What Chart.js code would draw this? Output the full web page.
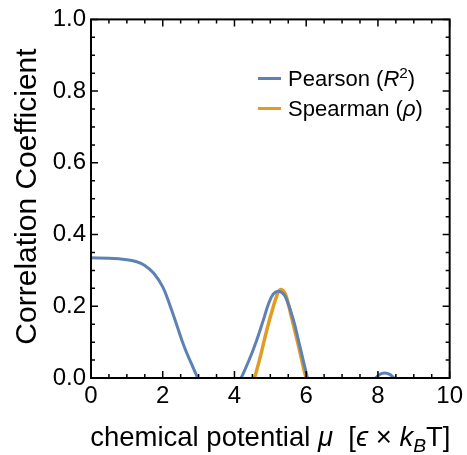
<!DOCTYPE html>
<html>
<head>
<meta charset="utf-8">
<script src="https://cdn.jsdelivr.net/npm/chart.js@4.4.1/dist/chart.umd.min.js"></script>
<style>
  html, body { margin: 0; padding: 0; background: #fff; }
</style>
</head>
<body>
<canvas id="corrChart" width="467" height="455"></canvas>
<script>
const FONT = '"Liberation Sans", Arial, sans-serif';

// values
const pearsonMu = [0, 0.5, 1.0, 1.25, 1.5, 1.75, 2.0, 2.2, 2.4, 2.6, 2.8, 3.0, 3.2, 3.6, 4.0, 4.2, 4.4, 4.6, 4.8, 4.95, 5.08, 5.22, 5.35, 5.45, 5.65, 5.82, 6.0, 6.07, 6.3, 7.0, 7.7, 7.94, 8.05, 8.19, 8.33, 8.45, 8.7, 10];
const pearsonR  = [0.335, 0.334, 0.330, 0.325, 0.314, 0.292, 0.254, 0.203, 0.145, 0.087, 0.040, -0.005, -0.045, -0.07, -0.04, 0.003, 0.048, 0.100, 0.160, 0.207, 0.234, 0.242, 0.236, 0.220, 0.160, 0.090, 0.015, -0.008, -0.04, -0.06, -0.03, 0.0, 0.010, 0.014, 0.010, 0.0, -0.02, -0.05];

const spearmanMu  = [4.5, 4.56, 4.72, 4.9, 5.08, 5.22, 5.30, 5.43, 5.59, 5.77, 5.94, 6.0, 6.05];
const spearmanRho = [-0.02, 0.0, 0.059, 0.133, 0.198, 0.240, 0.247, 0.231, 0.170, 0.096, 0.022, 0.0, -0.02];

const xMajorTicks = [0, 2, 4, 6, 8, 10];
const xMinorTicks = [0.5, 1, 1.5, 2.5, 3, 3.5, 4.5, 5, 5.5, 6.5, 7, 7.5, 8.5, 9, 9.5];
const yMajorTicks = [0, 0.2, 0.4, 0.6, 0.8, 1.0];
const yMinorTicks = [0.05, 0.1, 0.15, 0.25, 0.3, 0.35, 0.45, 0.5, 0.55, 0.65, 0.7, 0.75, 0.85, 0.9, 0.95];

const BLUE = 'rgb(94,129,181)';
const ORANGE = 'rgb(225,156,36)';

const toPoints = (xs, ys) => xs.map((x, i) => ({ x: x, y: ys[i] }));

// draw a run of text pieces (italic / sub / sup) starting at x
function drawRich(ctx, parts, x, y, size) {
    let cx = x;
    parts.forEach(p => {
        const s = (p.sub || p.sup) ? size * 0.7 : size;
        ctx.font = (p.italic ? 'italic ' : '') + s + 'px ' + FONT;
        let dy = 0;
        if (p.sub) dy = size * 0.22;
        if (p.sup) dy = -size * 0.38;
        ctx.fillText(p.t, cx, y + dy);
        cx += ctx.measureText(p.t).width;
    });
    return cx - x;
}
function richWidth(ctx, parts, size) {
    let w = 0;
    parts.forEach(p => {
        const s = (p.sub || p.sup) ? size * 0.7 : size;
        ctx.font = (p.italic ? 'italic ' : '') + s + 'px ' + FONT;
        w += ctx.measureText(p.t).width;
    });
    return w;
}

const framePlugin = {
    id: 'frame',
    afterDatasetsDraw(chart) {
        const { ctx, chartArea: a, scales: { x, y } } = chart;
        ctx.save();
        ctx.strokeStyle = '#000';
        ctx.lineWidth = 1.5;
        ctx.beginPath();
        const tick = (vals, len) => {
            vals.forEach(v => {
                const px = x.getPixelForValue(v);
                ctx.moveTo(px, a.bottom); ctx.lineTo(px, a.bottom - len);
                ctx.moveTo(px, a.top); ctx.lineTo(px, a.top + len);
            });
        };
        const ytick = (vals, len) => {
            vals.forEach(v => {
                const py = y.getPixelForValue(v);
                ctx.moveTo(a.left, py); ctx.lineTo(a.left + len, py);
                ctx.moveTo(a.right, py); ctx.lineTo(a.right - len, py);
            });
        };
        tick(xMajorTicks, 7); tick(xMinorTicks, 4);
        ytick(yMajorTicks, 7); ytick(yMinorTicks, 4);
        ctx.stroke();
        ctx.lineWidth = 2;
        ctx.strokeRect(a.left, a.top, a.right - a.left, a.bottom - a.top);
        ctx.restore();
    }
};

const textPlugin = {
    id: 'labels',
    afterDraw(chart) {
        const { ctx, chartArea: a } = chart;
        ctx.save();
        ctx.fillStyle = '#000';
        ctx.textBaseline = 'alphabetic';
        ctx.textAlign = 'left';

        // x axis title
        const xParts = [
            { t: 'chemical potential ' },
            { t: '\u03bc', italic: true },
            { t: '  [' },
            { t: '\u03f5', italic: true },
            { t: ' \u00d7 ' },
            { t: 'k', italic: true },
            { t: 'B', italic: true, sub: true },
            { t: 'T]' }
        ];
        const xs = 27.5;
        const w = richWidth(ctx, xParts, xs);
        drawRich(ctx, xParts, (a.left + a.right) / 2 - w / 2, 446, xs);

        // y axis title
        ctx.translate(36, 196.5);
        ctx.rotate(-Math.PI / 2);
        ctx.font = '30px ' + FONT;
        ctx.textAlign = 'center';
        ctx.fillText('Correlation Coefficient', 0, 0);
        ctx.setTransform(1, 0, 0, 1, 0, 0);
        ctx.textAlign = 'left';

        // legend
        const items = [
            { color: BLUE, y: 78.5, parts: [{ t: 'Pearson (' }, { t: 'R', italic: true }, { t: '2', sup: true }, { t: ')' }] },
            { color: ORANGE, y: 108.5, parts: [{ t: 'Spearman (' }, { t: '\u03c1', italic: true }, { t: ')' }] }
        ];
        items.forEach(it => {
            ctx.strokeStyle = it.color;
            ctx.lineWidth = 3;
            ctx.beginPath();
            ctx.moveTo(258, it.y); ctx.lineTo(281, it.y);
            ctx.stroke();
            drawRich(ctx, it.parts, 288, it.y + 7.5, 22);
        });
        ctx.restore();
    }
};

const ctx = document.getElementById('corrChart').getContext('2d');

const corrChart = new Chart(ctx, {
    type: 'line',
    data: {
        datasets: [
            {
                label: 'Pearson (R2)',
                data: toPoints(pearsonMu, pearsonR),
                borderColor: BLUE,
                borderWidth: 3,
                pointRadius: 0,
                tension: 0.4,
                fill: false,
                clip: 0
            },
            {
                label: 'Spearman (rho)',
                data: toPoints(spearmanMu, spearmanRho),
                borderColor: ORANGE,
                borderWidth: 3.5,
                pointRadius: 0,
                tension: 0.3,
                fill: false,
                clip: 0
            }
        ]
    },
    options: {
        responsive: false,
        devicePixelRatio: 1,
        animation: false,
        layout: { padding: { top: 18, right: 14, left: 0, bottom: 0 } },
        plugins: { legend: { display: false }, tooltip: { enabled: false } },
        scales: {
            x: {
                type: 'linear',
                min: 0, max: 10,
                grid: { display: false, drawTicks: false },
                border: { display: false },
                ticks: { stepSize: 2, padding: 4, color: '#000', font: { family: FONT, size: 24 }, maxRotation: 0 },
                afterFit(scale) { scale.height = 77; }
            },
            y: {
                min: 0, max: 1,
                grid: { display: false, drawTicks: false },
                border: { display: false },
                ticks: { stepSize: 0.2, padding: 5, color: '#000', font: { family: FONT, size: 24 },
                    callback: v => v.toFixed(1) },
                afterFit(scale) { scale.width = 91; }
            }
        }
    },
    plugins: [framePlugin, textPlugin]
});
</script>
</body>
</html>
